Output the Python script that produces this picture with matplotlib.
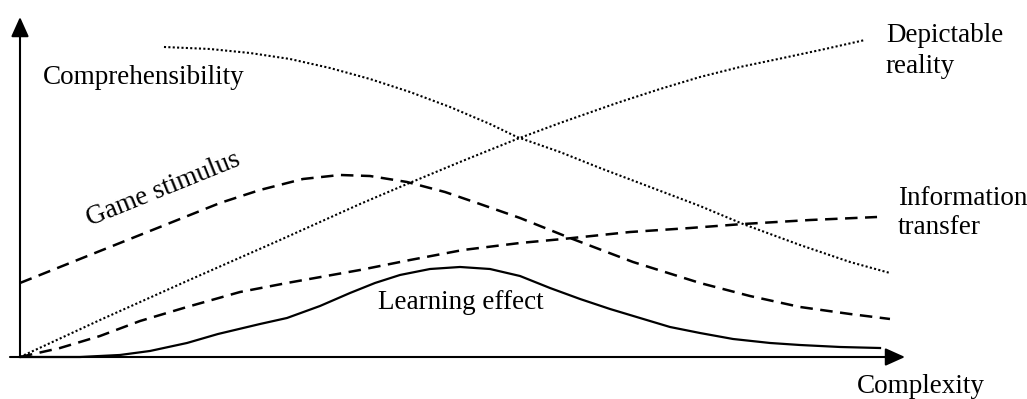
import matplotlib
matplotlib.use('Agg')
import matplotlib.pyplot as plt

# curves, complexity on x (0-100), value on y (0-100)
compre_x = [16.36, 21.59, 26.14, 30.68, 35.23, 39.77, 44.32, 48.86, 53.41, 56.48,
            61.36, 65.91, 71.59, 77.27, 82.16, 88.64, 94.32, 98.86]
compre_y = [96.88, 96.25, 95.0, 93.13, 90.31, 86.88, 82.81, 78.13, 72.81, 68.75,
            64.06, 59.06, 53.13, 47.19, 41.56, 35.0, 29.69, 26.25]

reality_x = [0, 9.09, 18.98, 29.55, 38.64, 43.98, 50.0, 56.48, 61.36, 67.84,
             72.73, 77.27, 81.82, 86.7, 91.48, 96.02]
reality_y = [0, 11.56, 23.75, 36.56, 47.81, 54.06, 60.94, 68.13, 73.13, 79.38,
             83.75, 87.5, 90.63, 93.44, 96.25, 99.06]

game_x = [0, 11.36, 22.73, 27.27, 32.16, 36.36, 39.77, 43.98, 48.3, 52.27,
          56.82, 62.5, 69.66, 77.27, 82.95, 88.64, 94.32, 98.86]
game_y = [23.13, 35.63, 48.13, 52.19, 55.63, 56.88, 56.56, 54.69, 51.56, 47.81,
          43.44, 37.19, 29.69, 23.13, 19.06, 15.63, 13.44, 11.88]

info_x = [0, 4.55, 9.09, 13.64, 18.98, 25.0, 30.34, 38.64, 44.32, 50.34, 56.82,
          61.7, 69.32, 76.14, 82.16, 89.77, 97.39]
info_y = [0, 2.81, 6.56, 11.25, 15.63, 20.31, 23.13, 27.19, 30.31, 33.44, 35.63,
          36.88, 39.06, 40.31, 41.56, 42.81, 43.75]

learn_x = [0, 6.82, 11.36, 14.77, 18.98, 22.5, 27.27, 30.34, 34.09, 37.5, 40.34,
           43.18, 46.59, 50.0, 53.41, 56.82, 60.23, 63.64, 67.05, 70.45, 73.86,
           77.27, 81.02, 85.23, 88.64, 93.18, 97.73]
learn_y = [0, 0, 0.63, 1.88, 4.38, 7.19, 10.31, 12.19, 15.94, 20.0, 23.13,
           25.63, 27.5, 28.13, 27.5, 25.31, 21.56, 18.13, 15.0, 12.19, 9.38,
           7.5, 5.63, 4.38, 3.75, 3.13, 2.81]

plt.rcParams['font.family'] = ['Liberation Serif', 'DejaVu Serif']

fig = plt.figure(figsize=(10.27, 3.99), dpi=100)
ax = fig.add_axes([0, 0, 1, 1])
ax.set_xlim(-20 / 8.8, 1007 / 8.8)
ax.set_ylim(-42 / 3.2, 357 / 3.2)
ax.axis('off')

dotted = (0, (1, 1.1))
dashed = (0, (5, 3))
ax.plot(compre_x, compre_y, color='black', lw=1.5, linestyle=dotted)
ax.plot(reality_x, reality_y, color='black', lw=1.5, linestyle=dotted)
ax.plot(game_x, game_y, color='black', lw=1.8, linestyle=dashed)
ax.plot(info_x, info_y, color='black', lw=1.8, linestyle=dashed)
ax.plot(learn_x, learn_y, color='black', lw=1.6, solid_joinstyle='round')

# axes with arrow heads
arrow = dict(arrowstyle='-|>,head_length=1.0,head_width=0.45', mutation_scale=12,
             lw=1.5, color='black', shrinkA=0, shrinkB=0)
ax.annotate('', xy=(100.57, 0), xytext=(-1.14, 0), arrowprops=arrow)
ax.annotate('', xy=(0, 106.25), xytext=(0, 0), arrowprops=arrow)

fs = 19.5
ax.text(2.61, 85.3, 'Comprehensibility', fontsize=fs, va='baseline')
ax.text(98.4, 104.3, 'Depictable\nreality', fontsize=fs, va='top', linespacing=1.3)
ax.text(99.8, 53.3, 'Information\ntransfer', fontsize=fs, va='top', linespacing=1.2)
ax.text(95.1, -11.25, 'Complexity', fontsize=fs, va='baseline')
ax.text(40.7, 15.0, 'Learning effect', fontsize=fs, va='baseline')
ax.text(7.95, 40.9, 'Game stimulus', fontsize=fs, va='baseline', rotation=22,
        rotation_mode='anchor')

fig.savefig('out.png', dpi=100)
